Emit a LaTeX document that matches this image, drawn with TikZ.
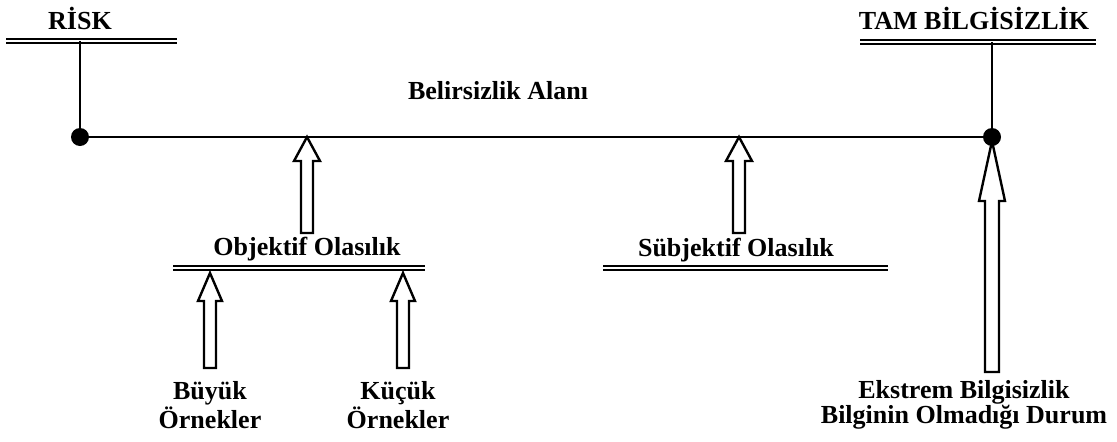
\documentclass[tikz,border=0pt]{standalone}
\usepackage{fontspec}
\setmainfont{Liberation Serif}
\usetikzlibrary{calc}

\tikzset{
  lbl/.style={font=\bfseries\fontsize{18.5}{18}\selectfont, inner sep=0pt, align=center},
  dbl/.style={line width=1.2pt, double distance=1.3pt},
  wire/.style={line width=1.5pt},
  hollow/.style={line width=1.7pt, fill=white, line join=miter},
  blob/.style={fill=black, radius=9}
}

% hollow up arrow: base, tip, shaft half width, head half width, head length
\newcommand{\hollowup}[5]{%
  \draw[hollow] ($(#1)+(-#3,0)$) -- ($(#2)+(-#3,#5)$) -- ($(#2)+(-#4,#5)$) -- (#2)
    -- ($(#2)+(#4,#5)$) -- ($(#2)+(#3,#5)$) -- ($(#1)+(#3,0)$) -- cycle;}

\begin{document}
\begin{tikzpicture}[x=0.025cm, y=-0.025cm]
 \useasboundingbox (0,0) rectangle (1117,441);

 % top labels
 \node[lbl] (risk) at (80,18) {RİSK};
 \node[lbl] (tam) at (974,18) {TAM BİLGİSİZLİK};
 \node[lbl] (alan) at (498,91) {Belirsizlik Alanı};
 \draw[dbl] (6,41) -- (177,41);
 \draw[dbl] (860,42) -- (1096,42);

 \coordinate (risktop) at (80,41);
 \coordinate (tamtop) at (992,42);
 \coordinate (ldot) at (80,137);
 \coordinate (rdot) at (992,137);
 \draw[wire] (risktop) -- (ldot) -- (rdot) -- (tamtop);

 % middle labels
 \node[lbl] (obj) at (307,249) {Objektif Olasılık};
 \node[lbl] (sub) at (736,250) {Sübjektif Olasılık};
 \draw[dbl] (173,268) -- (425,268);
 \draw[dbl] (603,268) -- (888,268);

 % bottom labels
 \node[lbl] (buyuk) at (210,405) {Büyük\\Örnekler};
 \node[lbl] (kucuk) at (398,405) {Küçük\\Örnekler};
 \node[lbl] (ekstrem) at (964,405) {Ekstrem Bilgisizlik\\Bilginin Olmadığı Durum};

 % arrows
 \coordinate (objtip) at (307,137);
 \coordinate (objbase) at (307,233);
 \coordinate (subtip) at (739,137);
 \coordinate (subbase) at (739,233);
 \coordinate (buytip) at (210,273);
 \coordinate (buybase) at (210,368);
 \coordinate (kuctip) at (403,273);
 \coordinate (kucbase) at (403,368);
 \coordinate (ekstip) at (992,141);
 \coordinate (eksbase) at (992,372);

 \hollowup{objbase}{objtip}{6}{13}{24}
 \hollowup{subbase}{subtip}{6}{13}{24}
 \hollowup{buybase}{buytip}{6}{12}{28}
 \hollowup{kucbase}{kuctip}{6}{12}{28}
 \hollowup{eksbase}{ekstip}{7}{13}{60}

 \fill[blob] (ldot) circle;
 \fill[blob] (rdot) circle;
\end{tikzpicture}
\end{document}
